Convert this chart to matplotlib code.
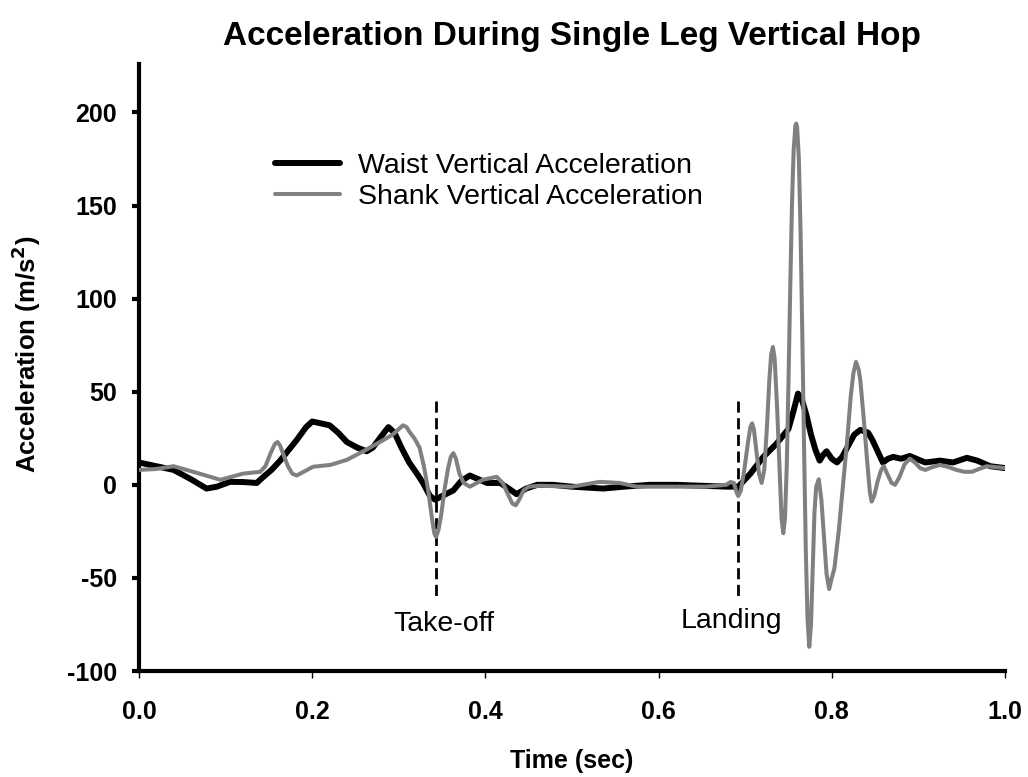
import matplotlib.pyplot as plt
import numpy as np

plt.rcParams['font.family'] = ['Liberation Sans', 'DejaVu Sans']
plt.rcParams['axes.unicode_minus'] = False

# waist accelerometer trace, time in s, acceleration in m/s^2
waist_t = [0.000, 0.020, 0.040, 0.060, 0.078, 0.090, 0.105, 0.120, 0.136, 0.143,
           0.153, 0.163, 0.182, 0.193, 0.200, 0.210, 0.220, 0.230, 0.240, 0.252,
           0.263, 0.270, 0.278, 0.288, 0.295, 0.303, 0.312, 0.321, 0.328, 0.336,
           0.342, 0.350, 0.363, 0.372, 0.382, 0.392, 0.402, 0.417, 0.427, 0.436,
           0.447, 0.460, 0.478, 0.500, 0.536, 0.560, 0.590, 0.620, 0.650, 0.680,
           0.692, 0.706, 0.721, 0.736, 0.750, 0.756, 0.761, 0.766, 0.771, 0.776,
           0.781, 0.786, 0.790, 0.794, 0.800, 0.806, 0.812, 0.819, 0.826, 0.833,
           0.842, 0.847, 0.852, 0.859, 0.865, 0.871, 0.880, 0.890, 0.908, 0.925,
           0.940, 0.956, 0.968, 0.983, 1.000]
waist_a = [12, 10, 8, 3, -2, -1, 1.6, 1.5, 1, 4,
           8, 13, 24, 31, 34, 33, 32, 28, 23, 20,
           18, 20, 25, 31, 28, 20, 12, 6, 1, -6,
           -8, -6, -3, 2, 5, 3, 1, 1, -2, -5,
           -2, 0, 0, -1, -2, -1, 0, 0, -0.5, -1,
           -1, 6, 15, 22, 30, 40, 49, 45, 37, 27,
           19, 13, 16, 18, 14, 12, 15, 21, 27, 29.5,
           28, 24, 19, 12, 14, 15, 14, 15.5, 12, 13,
           12, 14.5, 13, 10, 9]

# shank accelerometer trace
shank_t = [0.000, 0.020, 0.040, 0.067, 0.094, 0.120, 0.140, 0.146, 0.152, 0.157,
           0.160, 0.163, 0.167, 0.172, 0.177, 0.182, 0.190, 0.201, 0.221, 0.240,
           0.259, 0.282, 0.293, 0.305, 0.309, 0.313, 0.318, 0.324, 0.329, 0.334,
           0.338, 0.341, 0.343, 0.346, 0.349, 0.353, 0.357, 0.360, 0.363, 0.366,
           0.370, 0.375, 0.382, 0.397, 0.413, 0.420, 0.426, 0.431, 0.435, 0.439,
           0.444, 0.450, 0.463, 0.500, 0.532, 0.555, 0.575, 0.615, 0.654, 0.678,
           0.683, 0.687, 0.690, 0.692, 0.695, 0.699, 0.703, 0.706, 0.708, 0.710,
           0.713, 0.716, 0.719, 0.722, 0.725, 0.728, 0.730, 0.732, 0.734, 0.737,
           0.740, 0.742, 0.744, 0.746, 0.748, 0.750, 0.752, 0.754, 0.756, 0.758,
           0.759, 0.760, 0.762, 0.764, 0.766, 0.768, 0.770, 0.772, 0.774, 0.776,
           0.778, 0.780, 0.782, 0.785, 0.788, 0.791, 0.794, 0.797, 0.800, 0.803,
           0.808, 0.813, 0.818, 0.822, 0.825, 0.828, 0.831, 0.833, 0.837, 0.841,
           0.844, 0.846, 0.849, 0.853, 0.857, 0.860, 0.864, 0.869, 0.873, 0.878,
           0.884, 0.890, 0.896, 0.902, 0.908, 0.916, 0.925, 0.935, 0.944, 0.953,
           0.962, 0.970, 0.979, 0.990, 1.000]
shank_a = [8, 8.5, 10, 6.4, 2.7, 6, 7, 10, 17, 22,
           23, 21, 16, 10, 6, 5, 7, 9.7, 10.7, 13.4,
           18, 24, 27, 32, 31, 28, 25, 20, 10, -3,
           -17, -26, -28, -24, -16, -2, 9, 15, 17, 14,
           6, 1, -1, 2.7, 4.3, 1, -5, -10, -11, -8,
           -3, -1, -0.5, -1, 1.6, 1, -1, -1, -1, 0,
           1.5, 1, -4, -6, -3, 8, 22, 31, 33, 30,
           18, 6, 1, 8, 30, 57, 70, 74, 68, 40,
           5, -18, -26, -18, 10, 55, 105, 150, 180, 193,
           194, 192, 175, 135, 80, 20, -35, -72, -87, -75,
           -45, -15, -1, 3, -8, -28, -48, -56, -50, -45,
           -25, 0, 25, 48, 60, 66, 62, 56, 35, 12,
           -4, -9, -6, 2, 8, 10, 6, 1, 0, 4,
           11, 14, 12, 9, 8, 9.5, 10.7, 9.5, 8, 7,
           7, 8.5, 10, 9.5, 9]

# take-off and landing instants
event_t = [0.343, 0.692]
event_labels = ['Take-off', 'Landing']

fig = plt.figure(figsize=(10.28, 7.77), dpi=100)
ax = fig.add_axes([0.1352, 0.1364, 0.8424, 0.7812])

ax.plot(waist_t, waist_a, color='black', lw=4.3, solid_joinstyle='round',
        solid_capstyle='round', label='Waist Vertical Acceleration', zorder=3)
ax.plot(shank_t, shank_a, color='#808080', lw=2.9, solid_joinstyle='round',
        solid_capstyle='round', label='Shank Vertical Acceleration', zorder=4)

for t in event_t:
    ax.plot([t, t], [45, -60], color='black', lw=2, dashes=(4, 2), zorder=2)
ax.text(0.352, -75, event_labels[0], ha='center', va='center', fontsize=20.5)
ax.text(0.684, -73, event_labels[1], ha='center', va='center', fontsize=20.5)

ax.set_xlim(0, 1.0)
ax.set_ylim(-100, 226)
ax.set_xticks(np.arange(0, 1.01, 0.2))
ax.set_xticklabels(['0.0', '0.2', '0.4', '0.6', '0.8', '1.0'])
ax.set_yticks(np.arange(-100, 201, 50))

for s in ['top', 'right']:
    ax.spines[s].set_visible(False)
for s in ['left', 'bottom']:
    ax.spines[s].set_linewidth(3)

ax.tick_params(axis='y', direction='out', length=5, width=3, pad=11)
ax.tick_params(axis='x', direction='out', length=5, width=1, pad=16)
for lbl in ax.get_xticklabels() + ax.get_yticklabels():
    lbl.set_fontweight('bold')
    lbl.set_fontsize(18)

ax.set_xlabel('Time (sec)', fontsize=18, fontweight='bold', labelpad=18)
ax.set_ylabel('Acceleration (m/s$^\\mathbf{2}$)', fontsize=18.5, fontweight='bold')
ax.yaxis.set_label_coords(-0.111, 0.522)
ax.set_title('Acceleration During Single Leg Vertical Hop', fontsize=24,
             fontweight='bold', pad=14)

ax.legend(loc='upper left', bbox_to_anchor=(0.157, 0.853), frameon=False,
          fontsize=20.5, handlelength=2.3, handletextpad=0.6, labelspacing=0.15,
          borderpad=0, borderaxespad=0)

fig.savefig('out.png', dpi=100)
